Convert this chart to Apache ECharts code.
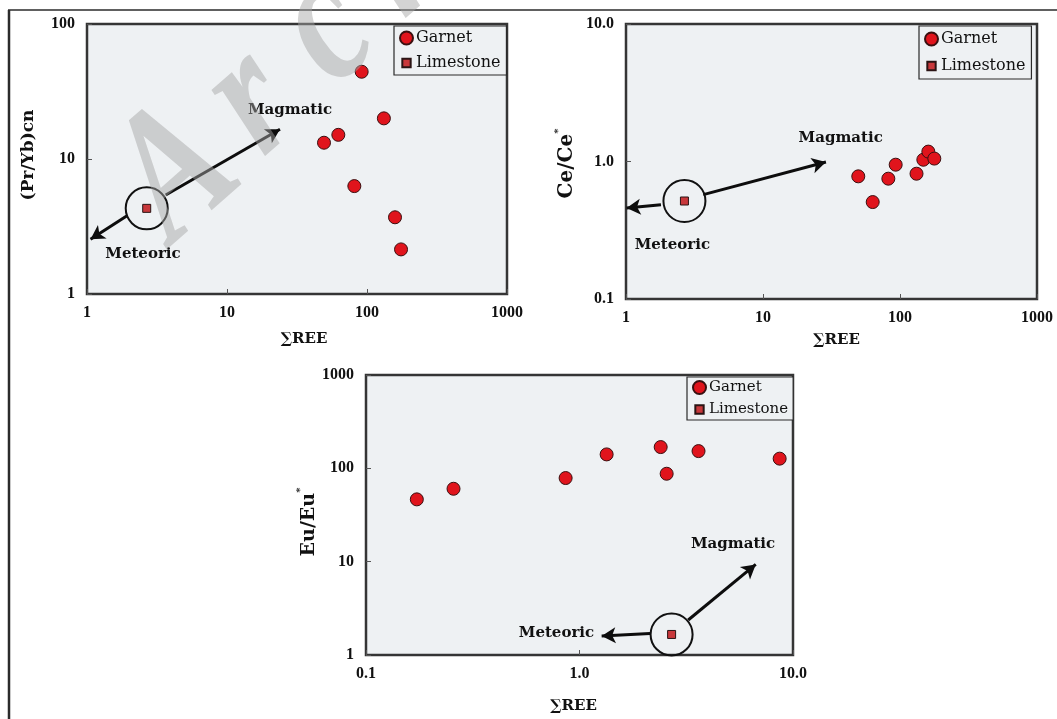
<!DOCTYPE html>
<html>
<head>
<meta charset="utf-8">
<title>REE ratios of garnet and limestone</title>
<script src="https://cdn.jsdelivr.net/npm/echarts@6/dist/echarts.min.js"></script>
<style>
  html, body { margin: 0; padding: 0; background: #ffffff; }
  #chart { width: 1057px; height: 719px; }
</style>
</head>
<body>
<div id="chart"></div>
<script>
// ---- Data ----
// Panel 1: (Pr/Yb)cn vs ΣREE
const garnetREE1 = [91.6, 132, 62.4, 49.3, 81.2, 158.5, 175];
const garnetPrYb = [44.3, 20.0, 15.1, 13.2, 6.3, 3.7, 2.14];
const limestoneREE1 = [2.67];
const limestonePrYb = [4.31];

// Panel 2: Ce/Ce* vs ΣREE
const garnetREE2 = [49.6, 63.2, 82.2, 93, 132, 148, 161, 178];
const garnetCe = [0.78, 0.507, 0.75, 0.948, 0.815, 1.03, 1.18, 1.05];
const limestoneREE2 = [2.67];
const limestoneCe = [0.516];

// Panel 3: Eu/Eu* vs ΣREE
const garnetREE3 = [0.173, 0.257, 0.861, 1.34, 2.40, 2.56, 3.61, 8.66];
const garnetEu = [46.5, 60.4, 78.7, 141, 169, 87.5, 153, 127];
const limestoneREE3 = [2.70];
const limestoneEu = [1.66];

// Tick labels (one per decade, from the axis minimum upward)
const ticks1X = ['1', '10', '100', '1000'];
const ticks1Y = ['1', '10', '100'];
const ticks2X = ['1', '10', '100', '1000'];
const ticks2Y = ['0.1', '1.0', '10.0'];
const ticks3X = ['0.1', '1.0', '10.0'];
const ticks3Y = ['1', '10', '100', '1000'];

const seriesNames = ['Garnet', 'Limestone'];
const watermarkText = 'Archive';

// ---- Styling ----
const SERIF = '"DejaVu Serif", "Liberation Serif", serif';
const TICKFONT = '"Liberation Serif", "DejaVu Serif", serif';
const INK = '#111111';
const PLOT_BG = '#eef1f3';

const zip = (xs, ys) => xs.map((x, i) => [x, ys[i]]);

function tickFormatter(labels, min) {
  return v => {
    const k = Math.round(Math.log10(v) - Math.log10(min));
    return labels[k] !== undefined ? labels[k] : '';
  };
}

function makeXAxis(gi, min, max, labels, name, gap, shift) {
  return {
    type: 'log', logBase: 10, gridIndex: gi, min, max,
    axisLine: { show: false },
    splitLine: { show: false },
    axisTick: { show: true, inside: true, length: 5, lineStyle: { color: '#555', width: 1 } },
    axisLabel: { margin: 11, color: INK, fontFamily: TICKFONT, fontWeight: 'bold', fontSize: 16,
                 formatter: tickFormatter(labels, min) },
    name, nameLocation: 'middle', nameGap: gap,
    nameTextStyle: { color: INK, fontFamily: SERIF, fontWeight: 'bold', fontSize: 15,
                     padding: shift >= 0 ? [0, 0, 0, 2 * shift] : [0, -2 * shift, 0, 0] }
  };
}

// shift > 0 moves the rotated name upward, shift < 0 downward
function makeYAxis(gi, min, max, labels, name, gap, size, shift, rich) {
  return {
    type: 'log', logBase: 10, gridIndex: gi, min, max,
    axisLine: { show: false },
    splitLine: { show: false },
    axisTick: { show: true, inside: true, length: 5, lineStyle: { color: '#555', width: 1 } },
    axisLabel: { margin: 12, color: INK, fontFamily: TICKFONT, fontWeight: 'bold', fontSize: 16,
                 formatter: tickFormatter(labels, min) },
    name, nameLocation: 'middle', nameGap: gap, nameRotate: 90,
    nameTextStyle: Object.assign({
      color: INK, fontFamily: SERIF, fontWeight: 'bold', fontSize: size,
      padding: shift >= 0 ? [0, 0, 0, 2 * shift] : [0, -2 * shift, 0, 0]
    }, rich ? { rich } : {})
  };
}

function supRich(size) {
  return {
    b: { fontFamily: SERIF, fontWeight: 'bold', fontSize: size, color: INK, lineHeight: size + 4, verticalAlign: 'bottom' },
    s: { fontFamily: SERIF, fontWeight: 'bold', fontSize: 10, color: INK, lineHeight: size + 4, verticalAlign: 'top' }
  };
}

function panelSeries(gi, gx, gy, lx, ly, notes) {
  const out = [];
  // circled limestone sample with its two trend arrows
  out.push({
    type: 'scatter', name: 'ring', xAxisIndex: gi, yAxisIndex: gi, silent: true, z: 3,
    symbol: 'circle', symbolSize: 42,
    itemStyle: { color: 'rgba(0,0,0,0)', borderColor: '#111', borderWidth: 2, opacity: 1 },
    data: zip(lx, ly),
    markLine: {
      silent: true, symbol: ['none', 'arrow'], symbolSize: [12, 14], animation: false,
      lineStyle: { color: '#0d0d0d', width: 3, type: 'solid', opacity: 1 },
      label: { show: false },
      emphasis: { disabled: true },
      data: notes.arrows.map(a => [{ coord: a[0] }, { coord: a[1] }])
    }
  });
  out.push({
    type: 'scatter', name: 'notes', xAxisIndex: gi, yAxisIndex: gi, silent: true, z: 5,
    symbol: 'circle', symbolSize: 1, itemStyle: { color: 'rgba(0,0,0,0)', opacity: 1 },
    label: { show: true, position: 'inside', formatter: p => p.name,
             fontFamily: SERIF, fontWeight: 'bold', fontSize: 15, color: INK },
    data: notes.labels.map(l => ({ name: l[0], value: l[1] }))
  });
  out.push({
    type: 'scatter', name: 'Garnet', xAxisIndex: gi, yAxisIndex: gi, z: 4,
    symbol: 'circle', symbolSize: 13,
    itemStyle: { color: '#e0141c', borderColor: '#3a1010', borderWidth: 1, opacity: 1 },
    data: zip(gx, gy)
  });
  out.push({
    type: 'scatter', name: 'Limestone', xAxisIndex: gi, yAxisIndex: gi, z: 4,
    symbol: 'rect', symbolSize: 8,
    itemStyle: { color: '#c8383b', borderColor: '#2a1414', borderWidth: 1, opacity: 1 },
    data: zip(lx, ly)
  });
  return out;
}

function makeLegend(left, top, gap, padding, fontSize) {
  return {
    orient: 'vertical', left, top, itemGap: gap, padding,
    itemWidth: 13, itemHeight: 13,
    backgroundColor: PLOT_BG, borderColor: '#2a2a2a', borderWidth: 1.2, borderRadius: 0,
    textStyle: { fontFamily: SERIF, fontSize, color: INK, padding: [0, 0, 0, -2] },
    selectedMode: false,
    data: [
      { name: seriesNames[0] },
      { name: seriesNames[1], icon: 'path://M0,0M14,14M2.5,2.5h9v9h-9z' }
    ]
  };
}

// watermark letters, tall and widely spaced along a rising diagonal
function watermark(text, x0, y0, dx, dy) {
  return text.split('').map((ch, i) => ({
    type: 'text', z: 100, silent: true,
    x: x0 + i * dx, y: y0 + i * dy, rotation: 0.72, scaleX: 0.8,
    style: { text: ch, font: 'italic bold 185px "Liberation Serif", serif',
             fill: 'rgba(165,165,165,0.48)', textAlign: 'center', textVerticalAlign: 'middle' }
  }));
}

const gridBase = { show: true, backgroundColor: PLOT_BG, borderColor: '#353535', borderWidth: 2.5, containLabel: false };

const option = {
  animation: false,
  backgroundColor: '#ffffff',
  grid: [
    Object.assign({ left: 87, top: 24, width: 420, height: 270 }, gridBase),
    Object.assign({ left: 626, top: 24, width: 411, height: 275 }, gridBase),
    Object.assign({ left: 366, top: 375, width: 427, height: 280 }, gridBase)
  ],
  xAxis: [
    makeXAxis(0, 1, 1000, ticks1X, '∑REE', 38, 7),
    makeXAxis(1, 1, 1000, ticks2X, '∑REE', 34, 5),
    makeXAxis(2, 0.1, 10, ticks3X, '∑REE', 44, -6)
  ],
  yAxis: [
    makeYAxis(0, 1, 100, ticks1Y, '(Pr/Yb)cn', 50, 17, 4),
    makeYAxis(1, 0.1, 10, ticks2Y, '{b|Ce/Ce}{s|*}', 49, 20, -2, supRich(20)),
    makeYAxis(2, 1, 1000, ticks3Y, '{b|Eu/Eu}{s|*}', 46, 19, -7, supRich(19))
  ],
  legend: [
    makeLegend(394, 26, 9, [4, 6, 4, 5], 16),
    makeLegend(919, 26, 11, [5, 6, 5, 5], 16),
    makeLegend(687, 377, 7, [3, 5, 3, 5], 15)
  ],
  series: [].concat(
    panelSeries(0, garnetREE1, garnetPrYb, limestoneREE1, limestonePrYb, {
      arrows: [[[3.65, 5.41], [23.9, 16.6]], [[1.92, 3.78], [1.06, 2.54]]],
      labels: [['Magmatic', [28.2, 23.1]], ['Meteoric', [2.51, 1.98]]]
    }),
    panelSeries(1, garnetREE2, garnetCe, limestoneREE2, limestoneCe, {
      arrows: [[[3.67, 0.574], [28.8, 0.991]], [[1.8, 0.485], [1.01, 0.459]]],
      labels: [['Magmatic', [36.9, 1.48]], ['Meteoric', [2.18, 0.248]]]
    }),
    panelSeries(2, garnetREE3, garnetEu, limestoneREE3, limestoneEu, {
      arrows: [[[3.23, 2.37], [6.69, 9.35]], [[2.14, 1.70], [1.27, 1.60]]],
      labels: [['Magmatic', [5.24, 15.3]], ['Meteoric', [0.78, 1.73]]]
    })
  ),
  graphic: [
    // page frame (top and left rules)
    { type: 'line', z: 50, shape: { x1: 8, y1: 10, x2: 1057, y2: 10 }, style: { stroke: '#2b2b2b', lineWidth: 1.6 } },
    { type: 'line', z: 50, shape: { x1: 9, y1: 10, x2: 9, y2: 719 }, style: { stroke: '#2b2b2b', lineWidth: 2.5 } }
  ].concat(watermark(watermarkText, 178, 176, 75, -73))
};

const chart = echarts.init(document.getElementById('chart'), null, { renderer: 'canvas' });
chart.setOption(option);
</script>
</body>
</html>
